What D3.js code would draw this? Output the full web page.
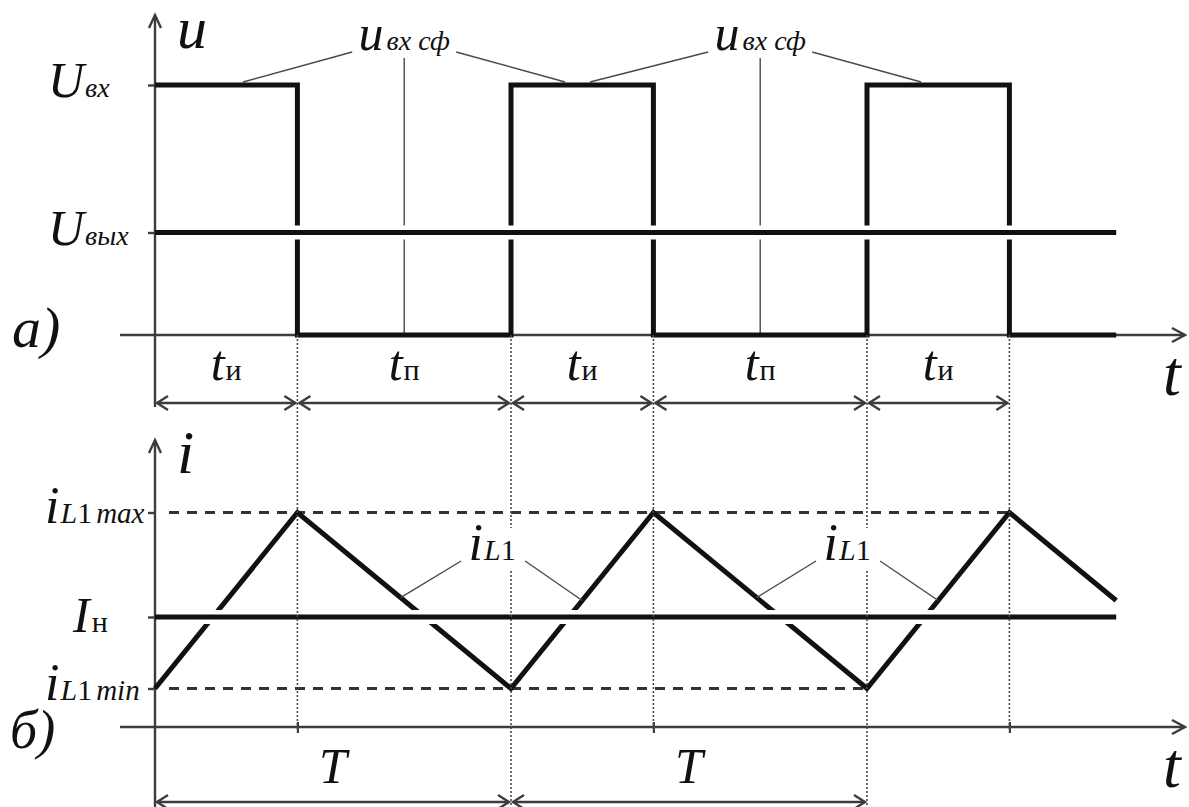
<!DOCTYPE html>
<html>
<head>
<meta charset="utf-8">
<script src="https://cdn.jsdelivr.net/npm/d3@7/dist/d3.min.js"></script>
<style>
  html, body { margin: 0; padding: 0; background: #fff; }
  svg { display: block; }
</style>
</head>
<body>
<svg id="chart" width="1189" height="807"></svg>
<script>
// Buck converter waveforms: a) input voltage pulses, б) inductor current.
// Time is measured in switching periods T.
const pulseTimes   = [0, 0.4, 1, 1.4, 2, 2.4, 2.7];
const uInValues    = [1, 0, 1, 0, 1, 0, 0];          // u_вх сф, in units of U_вх
const uInLevel     = 1;
const uOutLevel    = 0.41;                            // U_вых
const iL1Values    = [0.35, 1.95, 0.35, 1.95, 0.35, 1.95, 1.15];
const iLoadLevel   = 1.0;                             // I_н
const iMaxLevel    = 1.95;                            // i_L1 max
const iMinLevel    = 0.35;                            // i_L1 min
const intervalBounds = [0, 0.4, 1, 1.4, 2, 2.4];
const intervalNames  = ["и", "п", "и", "п", "и"];
const periodBounds   = [0, 1, 2];
const switchOffTimes = [0.4, 1.4, 2.4];
const switchOnTimes  = [1, 2];
const uLabelTimes    = [0.7, 1.7];                    // u_вх сф labels
const uLeaderTargets = [[0.247, 1.152], [1.222, 2.152]];
const iLabelTimes    = [0.947, 1.944];                // i_L1 labels
const iLeaderTargets = [[0.69, 1.2], [1.69, 2.2]];

const FONT = '"Liberation Serif"';
const svg = d3.select("#chart");
const ink = "#111", axisInk = "#3c3c3c", thinInk = "#4a4a4a";

const x  = d3.scaleLinear().domain([0, 1]).range([155, 511]);
const yU = d3.scaleLinear().domain([0, 1]).range([335, 85]);
const yI = d3.scaleLinear().domain([0, 2]).range([727, 507]);

const x0 = x(0), xAxisStart = x0 - 35, xAxisEnd = 1185;

// helpers ------------------------------------------------------------
function arrowAxisX(y) {
  svg.append("line").attr("x1", xAxisStart).attr("x2", xAxisEnd).attr("y1", y).attr("y2", y)
    .attr("stroke", axisInk).attr("stroke-width", 2.4);
  svg.append("path").attr("d", `M${xAxisEnd - 13},${y - 7} L${xAxisEnd},${y} L${xAxisEnd - 13},${y + 7}`)
    .attr("fill", "none").attr("stroke", axisInk).attr("stroke-width", 2.4);
}
function arrowAxisY(top, bottom) {
  svg.append("line").attr("x1", x0).attr("x2", x0).attr("y1", top).attr("y2", bottom)
    .attr("stroke", axisInk).attr("stroke-width", 2.4);
  svg.append("path").attr("d", `M${x0 - 6},${top + 13} L${x0},${top} L${x0 + 6},${top + 13}`)
    .attr("fill", "none").attr("stroke", axisInk).attr("stroke-width", 2.4);
}
function dimArrow(xa, xb, y) {
  const g = svg.append("g").attr("stroke", axisInk).attr("stroke-width", 2.4).attr("fill", "none");
  g.append("line").attr("x1", xa + 2).attr("x2", xb - 2).attr("y1", y).attr("y2", y);
  g.append("path").attr("d", `M${xa + 13},${y - 7} L${xa + 2},${y} L${xa + 13},${y + 7}`);
  g.append("path").attr("d", `M${xb - 13},${y - 7} L${xb - 2},${y} L${xb - 13},${y + 7}`);
}
function symbol(xp, yp, parts, anchor) {
  const t = svg.append("text").attr("x", xp).attr("y", yp)
    .attr("text-anchor", anchor || "start")
    .style("font-family", FONT).attr("fill", "#111");
  parts.forEach(p => {
    t.append("tspan").text(p.t)
      .style("font-family", FONT)
      .attr("font-size", p.s)
      .attr("font-style", p.up ? "normal" : "italic")
      .attr("dx", p.dx || 0);
  });
  return t;
}
function yAtTime(times, vals, t) {
  return d3.scaleLinear().domain(times).range(vals)(t);
}

// ===== panel a) =====================================================
arrowAxisX(yU(0));
arrowAxisY(15, 407);

svg.append("g").attr("transform", `translate(${x0},0)`)
  .call(d3.axisLeft(yU).tickValues([uOutLevel, uInLevel]).tickSize(7).tickFormat(""))
  .call(g => g.select(".domain").remove())
  .call(g => g.selectAll("line").attr("stroke", axisInk).attr("stroke-width", 2.4));

// label leaders for u_вх сф
uLabelTimes.forEach((t, k) => {
  const cx = x(t);
  svg.append("line").attr("x1", cx).attr("x2", cx).attr("y1", 58).attr("y2", yU(0))
    .attr("stroke", thinInk).attr("stroke-width", 1.4);
  svg.append("line").attr("x1", cx - 52).attr("y1", 52)
    .attr("x2", x(uLeaderTargets[k][0])).attr("y2", yU(uInLevel) - 3)
    .attr("stroke", thinInk).attr("stroke-width", 1.4);
  svg.append("line").attr("x1", cx + 52).attr("y1", 52)
    .attr("x2", x(uLeaderTargets[k][1])).attr("y2", yU(uInLevel) - 3)
    .attr("stroke", thinInk).attr("stroke-width", 1.4);
  symbol(cx, 50, [{t: "u", s: 50}, {t: "вх сф", s: 28, dx: 3}], "middle");
});

// pulse train
const pulseData = pulseTimes.map((t, i) => [t, uInValues[i]]);
svg.append("path").datum(pulseData)
  .attr("d", d3.line().x(d => x(d[0])).y(d => yU(d[1])).curve(d3.curveStepAfter))
  .attr("fill", "none").attr("stroke", ink).attr("stroke-width", 5).attr("stroke-linejoin", "miter");

// output voltage level
const uOutX = [0, pulseTimes[pulseTimes.length - 1]];
svg.append("line").attr("x1", x(uOutX[0]) + 3).attr("x2", x(uOutX[1])).attr("y1", yU(uOutLevel)).attr("y2", yU(uOutLevel))
  .attr("stroke", "#fff").attr("stroke-width", 14);
svg.append("line").attr("x1", x(uOutX[0])).attr("x2", x(uOutX[1])).attr("y1", yU(uOutLevel)).attr("y2", yU(uOutLevel))
  .attr("stroke", ink).attr("stroke-width", 5);

// axis titles and level labels
symbol(177, 48, [{t: "u", s: 60}]);
symbol(48, yU(uInLevel) + 12, [{t: "U", s: 50}, {t: "вх", s: 28, dx: 1}]);
symbol(48, yU(uOutLevel) + 12, [{t: "U", s: 50}, {t: "вых", s: 28, dx: 1}]);
symbol(12, 347, [{t: "а)", s: 58}]);
symbol(1163, 395, [{t: "t", s: 64}]);

// switching instants
const dotted = (t, y1, y2) => svg.append("line").attr("x1", x(t)).attr("x2", x(t)).attr("y1", y1).attr("y2", y2)
  .attr("stroke", thinInk).attr("stroke-width", 1.6).attr("stroke-dasharray", "2,2");

// interval dimensions
const arrowRowU = 403;
intervalNames.forEach((name, i) => {
  const a = intervalBounds[i], b = intervalBounds[i + 1];
  dimArrow(x(a), x(b), arrowRowU);
  symbol((x(a) + x(b)) / 2, 380, [{t: "t", s: 50}, {t: name, s: 30, up: true, dx: 1}], "middle");
});

// ===== panel б) =====================================================
arrowAxisX(yI(0));
arrowAxisY(440, 807);

svg.append("g").attr("transform", `translate(${x0},0)`)
  .call(d3.axisLeft(yI).tickValues([iMinLevel, iLoadLevel, iMaxLevel]).tickSize(7).tickFormat(""))
  .call(g => g.select(".domain").remove())
  .call(g => g.selectAll("line").attr("stroke", axisInk).attr("stroke-width", 2.4));

svg.append("g").attr("transform", `translate(0,${yI(0) - 5})`)
  .call(d3.axisBottom(x).tickValues(switchOffTimes).tickSize(11).tickFormat(""))
  .call(g => g.select(".domain").remove())
  .call(g => g.selectAll("line").attr("stroke", axisInk).attr("stroke-width", 2.2));

// max / min bounds
const lastPeak = pulseTimes[5], lastValley = pulseTimes[4];
svg.append("line").attr("x1", x0 + 14).attr("x2", x(lastPeak)).attr("y1", yI(iMaxLevel)).attr("y2", yI(iMaxLevel))
  .attr("stroke", "#333").attr("stroke-width", 3).attr("stroke-dasharray", "10,8");
svg.append("line").attr("x1", x0 + 14).attr("x2", x(lastValley)).attr("y1", yI(iMinLevel)).attr("y2", yI(iMinLevel))
  .attr("stroke", "#333").attr("stroke-width", 3).attr("stroke-dasharray", "10,8");

// inductor current
const iData = pulseTimes.map((t, i) => [t, iL1Values[i]]);
svg.append("path").datum(iData)
  .attr("d", d3.line().x(d => x(d[0])).y(d => yI(d[1])))
  .attr("fill", "none").attr("stroke", ink).attr("stroke-width", 5).attr("stroke-linejoin", "miter");

// load current
svg.append("line").attr("x1", x0 + 3).attr("x2", x(uOutX[1])).attr("y1", yI(iLoadLevel)).attr("y2", yI(iLoadLevel))
  .attr("stroke", "#fff").attr("stroke-width", 14);
svg.append("line").attr("x1", x0).attr("x2", x(uOutX[1])).attr("y1", yI(iLoadLevel)).attr("y2", yI(iLoadLevel))
  .attr("stroke", ink).attr("stroke-width", 5);

// dotted switching lines through both panels
switchOffTimes.forEach(t => dotted(t, yU(0), yI(0) + 4));
switchOnTimes.forEach(t => dotted(t, yU(0), 807));

// i_L1 labels
iLabelTimes.forEach((t, k) => {
  const cx = x(t);
  svg.append("rect").attr("x", cx - 22).attr("y", 528).attr("width", 44).attr("height", 42).attr("fill", "#fff");
  [[iLeaderTargets[k][0], cx - 31], [iLeaderTargets[k][1], cx + 33]].forEach(([tt, sx]) => {
    const ty = yI(yAtTime(pulseTimes, iL1Values, tt));
    svg.append("line").attr("x1", sx).attr("y1", 561).attr("x2", x(tt)).attr("y2", ty)
      .attr("stroke", thinInk).attr("stroke-width", 1.4);
  });
  symbol(cx, 560, [{t: "i", s: 52}, {t: "L", s: 30, dx: 1}, {t: "1", s: 30, up: true}], "middle");
});

// level labels
symbol(45, yI(iMaxLevel) + 10, [{t: "i", s: 52}, {t: "L", s: 30, dx: 1}, {t: "1", s: 30, up: true}, {t: "max", s: 29, dx: 4}]);
symbol(73, yI(iLoadLevel) + 15, [{t: "I", s: 50}, {t: "н", s: 30, up: true, dx: 2}]);
symbol(45, yI(iMinLevel) + 11, [{t: "i", s: 52}, {t: "L", s: 30, dx: 1}, {t: "1", s: 30, up: true}, {t: "min", s: 29, dx: 4}]);
symbol(177, 473, [{t: "i", s: 62}]);
symbol(10, 748, [{t: "б)", s: 54}]);
symbol(1163, 787, [{t: "t", s: 64}]);

// period dimensions
const arrowRowI = 802;
periodBounds.slice(0, -1).forEach((a, i) => {
  const b = periodBounds[i + 1];
  dimArrow(x(a), x(b), arrowRowI);
  symbol((x(a) + x(b)) / 2, 783, [{t: "T", s: 50}], "middle");
});
</script>
</body>
</html>
